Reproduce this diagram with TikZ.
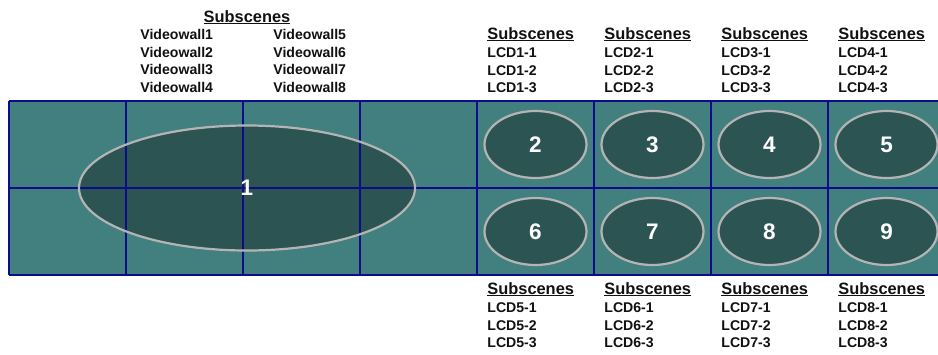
\documentclass[tikz,border=0pt]{standalone}
\usepackage{fontspec}
\setmainfont{Liberation Sans}
\usetikzlibrary{positioning, shapes.geometric}
\definecolor{wallteal}{RGB}{66,127,127}
\definecolor{zonedark}{RGB}{43,84,83}
\definecolor{gridnavy}{RGB}{12,12,140}
\definecolor{ringgray}{RGB}{180,180,180}
\definecolor{inktext}{RGB}{17,17,17}

\tikzset{
    cell/.style={fill=wallteal, minimum width=117pt, minimum height=87pt, inner sep=0pt, outer sep=0pt, anchor=north west},
    gridline/.style={draw=gridnavy, line width=1.3pt},
    zone/.style={ellipse, draw=ringgray, line width=2.2pt, fill=zonedark, text=white, inner sep=0pt,
        minimum width=102pt, minimum height=67pt, font=\fontsize{22.5}{22.5}\selectfont\bfseries},
    head/.style={anchor=base west, inner sep=0pt, text=inktext, font=\fontsize{16.4}{16.4}\selectfont\bfseries},
    item/.style={anchor=base west, inner sep=0pt, text=inktext, font=\fontsize{14.1}{17}\selectfont\bfseries}
}

\begin{document}
\begin{tikzpicture}[x=1pt, y=-1pt, thick]
    % khung
    \fill[white] (0,0) rectangle (938,354);
    \useasboundingbox (0,0) rectangle (938,354);

    % cac o man hinh (2 hang x 8 cot)
    \foreach \r in {1,2} {
        \foreach \c in {1,...,8} {
            \node[cell] (c\r\c) at ({9+117*(\c-1)}, {101+87*(\r-1)}) {};
        }
    }

    % nen vung 1 (duoi luoi)
    \fill[zonedark] (247,188) ellipse [x radius=168, y radius=62.5];

    % luoi
    \foreach \c in {1,...,8} {
        \draw[gridline] (c1\c.north west) -- (c2\c.south west);
    }
    \draw[gridline] (c18.north east) -- (c28.south east);
    \foreach \r in {1,2} {
        \draw[gridline] (c\r1.north west) -- (c\r8.north east);
    }
    \draw[gridline] (c21.south west) -- (c28.south east);

    % vung 1 tren videowall
    \node[zone, fill=none, minimum width=336pt, minimum height=125pt] (z1) at (247,188) {1};

    % cac vung LCD
    \foreach \k in {1,...,4} {
        \pgfmathtruncatemacro\col{\k+4}
        \pgfmathtruncatemacro\up{\k+1}
        \pgfmathtruncatemacro\dn{\k+5}
        \node[zone] (z\up) at (c1\col) {\up};
        \node[zone] (z\dn) at (c2\col) {\dn};
    }

    % subscenes videowall
    \node[head, anchor=base] (vwhead) at (247,22) {\underline{Subscenes}};
    \foreach \i in {1,...,4} {
        \pgfmathtruncatemacro\j{\i+4}
        \node[item] (vwa\i) at (140, {39.5+17.6*(\i-1)}) {Videowall\i};
        \node[item] (vwb\i) at (273, {39.5+17.6*(\i-1)}) {Videowall\j};
    }

    % subscenes LCD tren / duoi
    \foreach \k in {1,...,4} {
        \pgfmathtruncatemacro\b{\k+4}
        \node[head] (tophead\k) at ({370+117*\k}, 39) {\underline{Subscenes}};
        \node[head] (bothead\k) at ({370+117*\k}, 294) {\underline{Subscenes}};
        \foreach \m in {1,2,3} {
            \node[item] (top\k\m) at ({370+117*\k}, {57.5+17.5*(\m-1)}) {LCD\k-\m};
            \node[item] (bot\k\m) at ({370+117*\k}, {312.5+17.5*(\m-1)}) {LCD\b-\m};
        }
    }
\end{tikzpicture}
\end{document}
